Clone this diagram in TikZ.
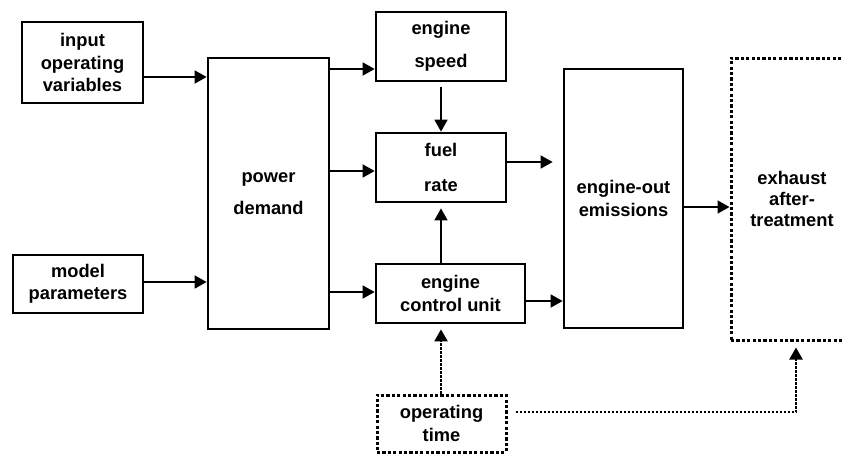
\documentclass[tikz,border=0pt]{standalone}
\usepackage{fontspec}
\setmainfont{Liberation Sans}
\usetikzlibrary{arrows.meta}
\begin{document}
\begin{tikzpicture}[x=1pt,y=-1pt,
  box/.style={draw, line width=2.7pt, align=center, inner sep=0pt,
    font=\fontsize{18.3}{22.5}\selectfont\bfseries},
  dotbox/.style={box, line width=3pt, dash pattern=on 3.2pt off 2.2pt},
  arr/.style={line width=1.6pt, -{Triangle[length=12pt,width=13pt]}},
  dotarr/.style={arr, line width=2.2pt, dash pattern=on 2.6pt off 1.4pt}]
\useasboundingbox (0,0) rectangle (843,456);
\node[box, minimum width=121pt, minimum height=81pt] (inp) at (82.5,62.5) {input\\operating\\variables};
\node[box, minimum width=130pt, minimum height=58pt] (mod) at (78,284) {model\\parameters};
\node[box, minimum width=121pt, minimum height=271pt] (pwr) at (268.5,193.5) {power\\[9.5pt]demand};
\node[box, minimum width=130pt, minimum height=69pt] (spd) at (441,46.5) {engine\\[10.5pt]speed};
\node[box, minimum width=130pt, minimum height=69pt] (fuel) at (441,167.5) {fuel\\[12.5pt]rate};
\node[box, minimum width=149pt, minimum height=59pt] (ecu) at (450.5,293.5) {engine\\control unit};
\node[box, minimum width=119pt, minimum height=259pt] (emi) at (623.5,198.5) {engine-out\\emissions};
\node[dotbox, minimum width=122pt, minimum height=282pt] (exh) at (792,199) {exhaust\\[-1.5pt]after-\\[-1.5pt]treatment};
\node[dotbox, minimum width=129pt, minimum height=57pt] (opt) at (441.5,423.5) {operating\\time};
\coordinate (y1) at (0,77);
\coordinate (y2) at (0,282);
\coordinate (y3) at (0,69);
\coordinate (y4) at (0,171);
\coordinate (y5) at (0,292);
\coordinate (y6) at (0,162);
\coordinate (y7) at (0,207);
\coordinate (y8) at (0,301);
\coordinate (y9) at (0,412);
\coordinate (x1) at (796,0);
\draw[arr] (inp.east |- y1) -- (pwr.west |- y1);
\draw[arr] (mod.east |- y2) -- (pwr.west |- y2);
\draw[arr] (pwr.east |- y3) -- (spd.west |- y3);
\draw[arr] (pwr.east |- y4) -- (fuel.west |- y4);
\draw[arr] (pwr.east |- y5) -- (ecu.west |- y5);
\draw[arr, shorten <=5pt] (spd.south) -- (fuel.north);
\draw[arr, shorten >=5pt] (ecu.north -| fuel) -- (fuel.south);
\draw[arr, shorten >=10pt] (fuel.east |- y6) -- (emi.west |- y6);
\draw[arr] (emi.east |- y7) -- (exh.west |- y7);
\draw[arr] (ecu.east |- y8) -- (emi.west |- y8);
\draw[dotarr, shorten >=5pt] (opt.north -| fuel) -- (ecu.south -| fuel);
\draw[dotarr, shorten >=6pt] ([xshift=8pt]opt.east |- y9) -| (exh.south -| x1);
\end{tikzpicture}
\end{document}
